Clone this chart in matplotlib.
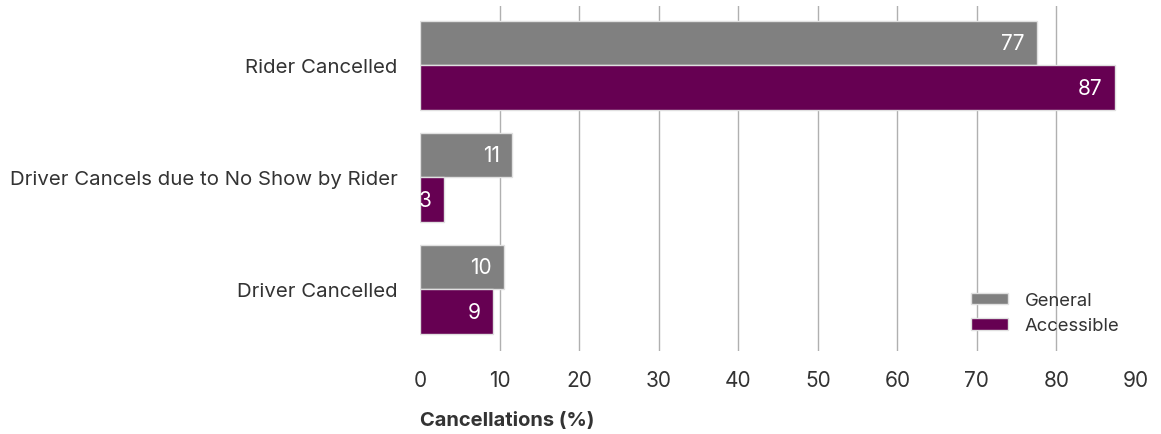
import numpy as np
import matplotlib
matplotlib.use('Agg')
import matplotlib.pyplot as plt

plt.rcParams['font.family'] = ['Inter', 'DejaVu Sans']

# data
categories = ['Rider Cancelled', 'Driver Cancels due to No Show by Rider', 'Driver Cancelled']
general = [77.5, 11.6, 10.6]
accessible = [87.3, 3.0, 9.2]
general_labels = ['77', '11', '10']
accessible_labels = ['87', '3', '9']

gray = '#808080'
purple = '#660052'
text_col = '#333333'

fig = plt.figure(figsize=(11.61, 4.35), dpi=100)
ax = fig.add_axes([420 / 1161, 1 - 352 / 435, (1136 - 420) / 1161, (352 - 7) / 435])

y = np.arange(len(categories))
h = 0.4
b1 = ax.barh(y - h / 2, general, height=h, color=gray, edgecolor='#e0e0e0', linewidth=1, label='General', zorder=2)
b2 = ax.barh(y + h / 2, accessible, height=h, color=purple, edgecolor='#e0e0e0', linewidth=1, label='Accessible', zorder=2)

for bars, labs in [(b1, general_labels), (b2, accessible_labels)]:
    for bar, lab in zip(bars, labs):
        ax.annotate(lab, (bar.get_width(), bar.get_y() + bar.get_height() / 2),
                    xytext=(-9, 0), textcoords='offset points',
                    ha='right', va='center', color='white', fontsize=15)

ax.set_xlim(0, 90)
ax.set_ylim(2.55, -0.53)
ax.set_xticks(np.arange(0, 91, 10))
ax.set_yticks(y)
ax.set_yticklabels(categories)
ax.tick_params(axis='x', length=0, pad=14, labelsize=15, labelcolor=text_col)
ax.tick_params(axis='y', length=0, pad=16, labelsize=14.7, labelcolor=text_col)

# grid lines only between 0 and 90
for v in range(10, 90, 10):
    ax.axvline(v, color='#b0b0b0', linewidth=1, zorder=1)

for s in ax.spines.values():
    s.set_visible(False)

ax.set_xlabel('Cancellations (%)', loc='left', fontsize=14.5, fontweight='bold',
              color=text_col, labelpad=15)

ax.legend(loc='lower right', bbox_to_anchor=(1.0, 0.0), frameon=False, fontsize=13.3,
          handlelength=2.0, handleheight=0.6, labelcolor=text_col, labelspacing=0.45,
          handletextpad=0.9)

fig.savefig('out.png', dpi=100)
